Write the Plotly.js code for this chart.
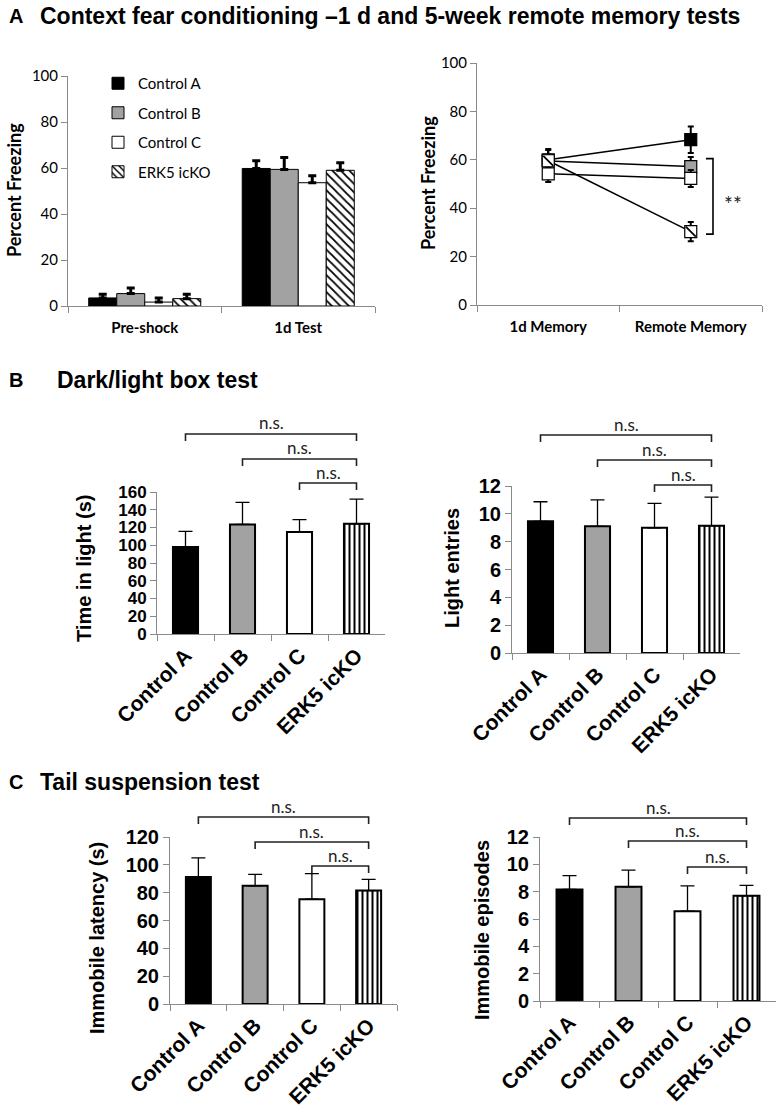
<!DOCTYPE html>
<html><head><meta charset="utf-8">
<script src="https://cdn.plot.ly/plotly-3.0.1.min.js"></script>
<style>html,body{margin:0;padding:0;background:#fff}#chart{width:777px;height:1111px}</style>
</head><body><div id="chart"></div>
<script>
// ---------- data ----------
const groups = ['Control A', 'Control B', 'Control C', 'ERK5 icKO'];

const fearPhases = ['Pre-shock', '1d Test'];
const fearCtrlA = [3.5, 59.8];
const fearCtrlB = [5.4, 59.4];
const fearCtrlC = [1.7, 53.6];
const fearKO = [3.2, 59.0];
const fearCtrlAErr = [1.6, 3.3];
const fearCtrlBErr = [2.4, 5.2];
const fearCtrlCErr = [1.8, 3.0];
const fearKOErr = [1.9, 3.3];

const memTests = ['1d Memory', 'Remote Memory'];
const memCtrlA = [60.0, 68.3];
const memCtrlB = [59.5, 57.2];
const memCtrlC = [54.2, 52.3];
const memKO = [59.6, 30.3];
const memCtrlAErr = [4.5, 5.5];
const memCtrlBErr = [4.5, 4.0];
const memCtrlCErr = [3.4, 3.5];
const memKOErr = [2.5, 4.0];

const lightTime = [97.9, 123.5, 114.8, 124.2];
const lightTimeErr = [17.7, 24.8, 14.0, 27.8];
const lightEntries = [9.46, 9.10, 9.00, 9.14];
const lightEntriesErr = [1.41, 1.90, 1.75, 2.06];
const immLatency = [91.3, 84.9, 75.3, 81.5];
const immLatencyErr = [13.7, 8.3, 18.4, 8.1];
const immEpisodes = [8.16, 8.36, 6.57, 7.70];
const immEpisodesErr = [1.01, 1.22, 1.86, 0.76];

const nsLabel = 'n.s.';
const sigLabel = '**';

// ---------- helpers / styles ----------
const W = 777, H = 1111;
const px = v => v / W;
const py = v => 1 - v / H;
const fills = ['#000000', '#a2a2a2', '#ffffff', '#ffffff'];
const GRAY = '#8a8a8a';
const CAL = 'Lato, "Open Sans", sans-serif';
const ARB = '"Liberation Sans", Arial, sans-serif';

const traces = [];

// Panel A left: grouped bars
const fearSeries = [fearCtrlA, fearCtrlB, fearCtrlC, fearKO];
const fearErrs = [fearCtrlAErr, fearCtrlBErr, fearCtrlCErr, fearKOErr];
fearSeries.forEach((ys, i) => {
  traces.push({
    type: 'bar', x: fearPhases, y: ys, name: groups[i], legendgroup: 'g' + i,
    xaxis: 'x', yaxis: 'y',
    marker: {
      color: fills[i], line: {color: '#000', width: 1},
      pattern: i === 3 ? {shape: '\\', fgcolor: '#000', bgcolor: '#fff', size: 6, solidity: 0.3} : {shape: ''}
    },
    error_y: {type: 'data', symmetric: false, array: fearErrs[i], arrayminus: fearErrs[i].map(() => 0),
      color: '#000', thickness: 3, width: 4}
  });
});

// Panel A right: lines with markers
const memSeries = [memCtrlA, memCtrlB, memCtrlC, memKO];
const memErrs = [memCtrlAErr, memCtrlBErr, memCtrlCErr, memKOErr];
memSeries.forEach((ys, i) => {
  traces.push({
    type: 'scatter', mode: 'lines+markers', x: memTests, y: ys, name: groups[i],
    xaxis: 'x2', yaxis: 'y2', showlegend: false, cliponaxis: false,
    line: {color: '#000', width: 1.5},
    marker: {symbol: 'square', size: 12, color: fills[i], line: {color: '#000', width: 1.2}},
    error_y: {type: 'data', array: memErrs[i], color: '#000', thickness: 2, width: 3}
  });
});
traces.push({
  type: 'scatter', mode: 'markers', x: memTests, y: memKO, xaxis: 'x2', yaxis: 'y2',
  showlegend: false, hoverinfo: 'skip', cliponaxis: false,
  marker: {symbol: 'line-nw', size: 10, line: {color: '#000', width: 1.8}}
});

// Panels B and C: one bar per group, sharing one offset group so bars stay centred
function barTraces(ys, errs, xa, ya, w) {
  groups.forEach((g, i) => {
    traces.push({
      type: 'bar', x: [g], y: [ys[i]], xaxis: xa, yaxis: ya, showlegend: false, width: w,
      offsetgroup: 'one' + xa, name: g,
      marker: {
        color: fills[i], line: {color: '#000', width: 2},
        pattern: i === 3 ? {shape: '|', fgcolor: '#000', bgcolor: '#fff', size: 5, solidity: 0.4} : {shape: ''}
      },
      error_y: {type: 'data', symmetric: false, array: [errs[i]], arrayminus: [0],
        color: '#000', thickness: 1.3, width: 7}
    });
  });
}
barTraces(lightTime, lightTimeErr, 'x3', 'y3', 0.44);
barTraces(lightEntries, lightEntriesErr, 'x4', 'y4', 0.44);
barTraces(immLatency, immLatencyErr, 'x5', 'y5', 0.44);
barTraces(immEpisodes, immEpisodesErr, 'x6', 'y6', 0.44);

// ---------- axes ----------
function xAx(x0, x1, anchor, font, angle, extra) {
  return Object.assign({domain: [px(x0), px(x1)], anchor: anchor, type: 'category', showline: true, linecolor: GRAY, linewidth: 1,
    ticks: 'outside', tickson: 'boundaries', ticklen: 6, tickcolor: GRAY, showgrid: false, zeroline: false,
    tickfont: font, tickangle: angle, fixedrange: true, categoryorder: 'array'}, extra || {});
}
function yAx(y0, y1, anchor, range, dtick, font) {
  return {domain: [py(y1), py(y0)], anchor: anchor, range: range, dtick: dtick, showline: true, linecolor: GRAY,
    linewidth: 1, ticks: 'outside', ticklen: 6, tickcolor: GRAY, showgrid: false, zeroline: false,
    tickfont: font, fixedrange: true};
}
const fA = {family: CAL, size: 15, color: '#000'};
const fAx = {family: CAL, size: 15, color: '#000', weight: 'bold'};
const fB = {family: ARB, size: 20, color: '#000', weight: 'bold'};
const fBs = {family: ARB, size: 17, color: '#000', weight: 'bold'};
const fBx = {family: ARB, size: 21, color: '#000', weight: 'bold'};
const catB = {categoryarray: groups, range: [-0.5, 3.5]};

const layout = {
  width: W, height: H, margin: {l: 0, r: 0, t: 0, b: 0}, autosize: false,
  paper_bgcolor: '#fff', plot_bgcolor: 'rgba(0,0,0,0)',
  barmode: 'group', bargap: 0.27, bargroupgap: 0,
  hovermode: false,
  showlegend: true,
  legend: {x: px(98), y: py(67), xanchor: 'left', yanchor: 'top', bgcolor: 'rgba(0,0,0,0)',
    font: {family: CAL, size: 15, color: '#000'}, tracegroupgap: 7, itemclick: false},
  xaxis: xAx(68, 375, 'y', fAx, 0, {ticklabelstandoff: 8, categoryarray: fearPhases}),
  yaxis: yAx(76, 306, 'x', [0, 100], 20, fA),
  xaxis2: xAx(477, 762, 'y2', fAx, 0, {ticklabelstandoff: 8, range: [-0.5, 1.5], categoryarray: memTests}),
  yaxis2: yAx(63, 305, 'x2', [0, 100], 20, fA),
  xaxis3: xAx(157, 385, 'y3', fBx, -45, catB),
  yaxis3: yAx(492, 634, 'x3', [0, 160], 20, fBs),
  xaxis4: xAx(512, 740, 'y4', fBx, -45, catB),
  yaxis4: yAx(486, 653, 'x4', [0, 12], 2, fB),
  xaxis5: xAx(170, 397, 'y5', fBx, -45, catB),
  yaxis5: yAx(837, 1004, 'x5', [0, 120], 20, fB),
  xaxis6: xAx(540, 776, 'y6', fBx, -45, catB),
  yaxis6: yAx(837, 1001, 'x6', [0, 12], 2, fB),
  shapes: [], annotations: []
};

// headers
function txt(t, x, y, font, extra) {
  layout.annotations.push(Object.assign({text: t, x: px(x), y: py(y), xref: 'paper', yref: 'paper',
    showarrow: false, font: font, xanchor: 'left', yanchor: 'middle'}, extra || {}));
}
const hdr = {family: ARB, size: 23, color: '#000', weight: 'bold'};
const hdrL = {family: ARB, size: 20, color: '#000', weight: 'bold'};
txt('A', 7, 16, hdrL);
txt('Context fear conditioning \u20131 d and 5-week remote memory tests', 38, 16, hdr);
txt('B', 7, 380, hdrL);
txt('Dark/light box test', 55, 380, hdr);
txt('C', 7, 782, hdrL);
txt('Tail suspension test', 38, 782, hdr);

// y titles
const ytA = {family: CAL, size: 18, color: '#000', weight: 'bold'};
const ytB = {family: ARB, size: 20, color: '#000', weight: 'bold'};
const rot = {textangle: -90, xanchor: 'center', yanchor: 'middle'};
txt('Percent Freezing', 14, 190, ytA, rot);
txt('Percent Freezing', 428, 183, ytA, rot);
txt('Time in light (s)', 84, 569, ytB, rot);
txt('Light entries', 452, 568, ytB, rot);
txt('Immobile latency (s)', 97, 938, ytB, rot);
txt('Immobile episodes', 482, 930, ytB, rot);

// significance brackets (annotation graphics)
const nsFont = {family: CAL, size: 17, color: '#222'};
function bracket(xa, i, j, yLine) {
  const y1 = py(yLine), y0 = py(yLine + 7);
  layout.shapes.push({type: 'path', xref: xa, yref: 'paper',
    path: `M ${i},${y0} L ${i},${y1} L ${j},${y1} L ${j},${y0}`,
    line: {color: '#222', width: 1.6}});
  layout.annotations.push({text: nsLabel, xref: xa, yref: 'paper', x: (i + j) / 2, y: py(yLine - 11),
    showarrow: false, font: nsFont, xanchor: 'center', yanchor: 'middle'});
}
[['x3', [434, 459, 483]], ['x4', [435, 460, 485]], ['x5', [817, 842, 866]], ['x6', [818, 841, 867]]]
  .forEach(([xa, ys]) => { bracket(xa, 0, 3, ys[0]); bracket(xa, 1, 3, ys[1]); bracket(xa, 2, 3, ys[2]); });

// ** bracket on remote memory panel
layout.shapes.push({type: 'path', xref: 'paper', yref: 'y2',
  path: `M ${px(706)},60.5 L ${px(713)},60.5 L ${px(713)},29.3 L ${px(706)},29.3`,
  line: {color: '#000', width: 1.6}});
layout.annotations.push({text: sigLabel, xref: 'paper', yref: 'y2', x: px(733), y: 42, showarrow: false,
  font: {family: CAL, size: 21, color: '#222'}, xanchor: 'center', yanchor: 'middle'});

Plotly.newPlot('chart', traces, layout, {staticPlot: true, displayModeBar: false});
</script>
</body></html>
